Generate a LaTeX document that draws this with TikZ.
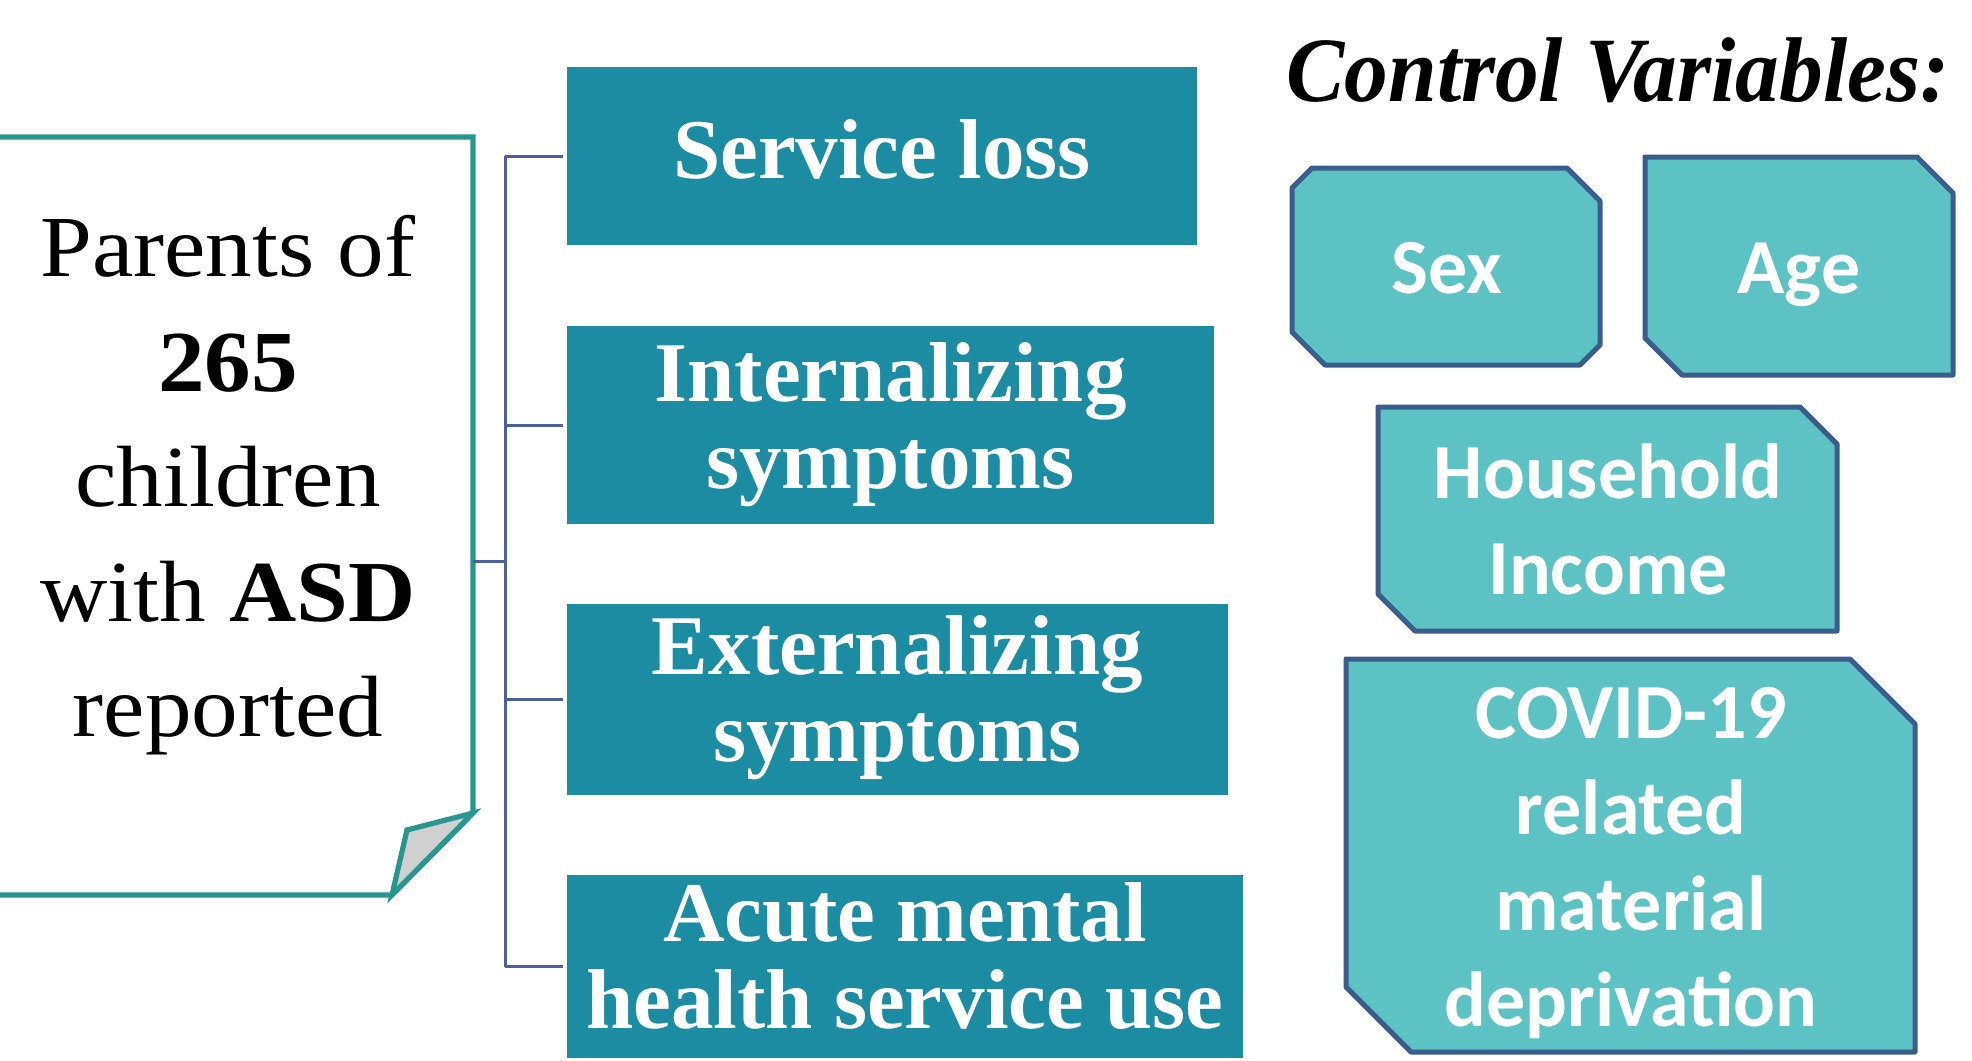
\documentclass[tikz,border=0pt]{standalone}
\usepackage{fontspec}
\usetikzlibrary{calc}
\newfontfamily\libserif{Liberation Serif}
\newfontfamily\libwide[FakeStretch=1.07]{Liberation Serif}
\newfontfamily\libtitle[FakeStretch=0.95]{Liberation Serif}
\newfontfamily\carlito{Carlito}
\definecolor{midteal}{RGB}{27,140,161}
\definecolor{ctrlfill}{RGB}{92,194,196}
\definecolor{ctrledge}{RGB}{58,94,140}
\definecolor{paperedge}{RGB}{38,150,143}
\definecolor{foldgray}{RGB}{208,208,208}
\definecolor{connblue}{RGB}{74,96,155}
\newcommand\chamfbox[5]{%
  \filldraw[ctrlbox] ($(#1.north west)+(#2,0)$) -- ($(#1.north east)+(-#3,0)$) --
    ($(#1.north east)+(0,#3)$) -- ($(#1.south east)+(0,-#4)$) --
    ($(#1.south east)+(-#4,0)$) -- ($(#1.south west)+(#5,0)$) --
    ($(#1.south west)+(0,-#5)$) -- ($(#1.north west)+(0,#2)$) -- cycle;}
\tikzset{
  px/.style={x=0.5pt,y=-0.5pt},
  midbox/.style={rectangle, fill=midteal, inner sep=0pt, outer sep=0pt},
  midtext/.style={anchor=base, inner sep=0pt, text=white, align=center,
    font=\libserif\bfseries\fontsize{42.5}{43.5}\selectfont},
  ctrlshape/.style={rectangle, inner sep=0pt, outer sep=0pt},
  ctrlbox/.style={fill=ctrlfill, draw=ctrledge, line width=2.5pt, line join=round},
  ctrltext/.style={anchor=base, inner sep=0pt, text=white, align=center,
    font=\carlito\bfseries\fontsize{39}{48}\selectfont},
  conn/.style={draw=connblue, line width=1.5pt},
  paper/.style={draw=paperedge, line width=2.6pt, line join=miter},
}
\begin{document}
\begin{tikzpicture}[px]
\useasboundingbox (0,0) rectangle (1972,1061);
% ---------- left paper box ----------
\node[rectangle, inner sep=0pt, outer sep=0pt, minimum width=236.5pt, minimum height=379pt] (src) at (236.5,516) {};
\draw[paper, fill=white] (src.north west) -- (src.north east) -- ($(src.south east)+(0,-82)$)
  -- ($(src.south west)+(392,0)$) -- (src.south west);
\filldraw[paper, fill=foldgray] ($(src.south east)+(0,-82)$) -- ($(src.south west)+(407,-65)$)
  -- ($(src.south west)+(392,0)$) -- cycle;
\node[anchor=base, inner sep=0pt, align=center, font=\libwide\fontsize{43.5}{57.5}\selectfont] (srctext) at (228,736)
  {Parents of\\ \textbf{265}\\ children\\ with \textbf{ASD}\\ reported};
% ---------- middle boxes ----------
\node[midbox, minimum width=315pt, minimum height=89pt] (b1) at (882,156) {};
\node[midbox, minimum width=323.5pt, minimum height=99pt] (b2) at (890.5,425) {};
\node[midbox, minimum width=330.5pt, minimum height=95.5pt] (b3) at (897.5,699.5) {};
\node[midbox, minimum width=338pt, minimum height=91.5pt] (b4) at (905,966.5) {};
\node[midtext] (t1) at (882,178) {Service loss};
\node[midtext] (t2) at (890.5,488) {Internalizing\\symptoms};
\node[midtext] (t3) at (897.5,761) {Externalizing\\symptoms};
\node[midtext] (t4) at (905,1028) {Acute mental\\health service use};
% ---------- connectors ----------
\coordinate (bus) at (505,561);
\draw[conn] (src.east |- bus) -- (bus);
\draw[conn] (b1.west -| bus) -- (b4.west -| bus);
\draw[conn, shorten >=2pt] (b1.west -| bus) -- (b1.west);
\draw[conn, shorten >=2pt] (b2.west -| bus) -- (b2.west);
\draw[conn, shorten >=2pt] (b3.west -| bus) -- (b3.west);
\draw[conn, shorten >=2pt] (b4.west -| bus) -- (b4.west);
% ---------- control variables ----------
\node[anchor=base west, inner sep=0pt, font=\libtitle\bfseries\itshape\fontsize{46}{46}\selectfont] (cvtitle) at (1286,101) {Control Variables:};
\node[ctrlshape, minimum width=154pt, minimum height=98.5pt] (sex) at (1446,266.5) {};
\node[ctrlshape, minimum width=154pt, minimum height=109pt] (age) at (1799,266) {};
\node[ctrlshape, minimum width=229.5pt, minimum height=112pt] (house) at (1607.5,519) {};
\node[ctrlshape, minimum width=284.5pt, minimum height=196.5pt] (covid) at (1630.5,855.5) {};
\chamfbox{sex}{20}{33}{20}{33}
\chamfbox{age}{0}{36}{0}{37}
\chamfbox{house}{0}{37}{0}{37}
\chamfbox{covid}{0}{65}{0}{65}
\node[ctrltext] (sext) at (1447,293) {Sex};
\node[ctrltext] (aget) at (1799,293) {Age};
\node[ctrltext] (houset) at (1608,594) {Household\\Income};
\node[ctrltext] (covidt) at (1631,1026) {COVID-19\\related\\material\\deprivation};
\end{tikzpicture}
\end{document}
